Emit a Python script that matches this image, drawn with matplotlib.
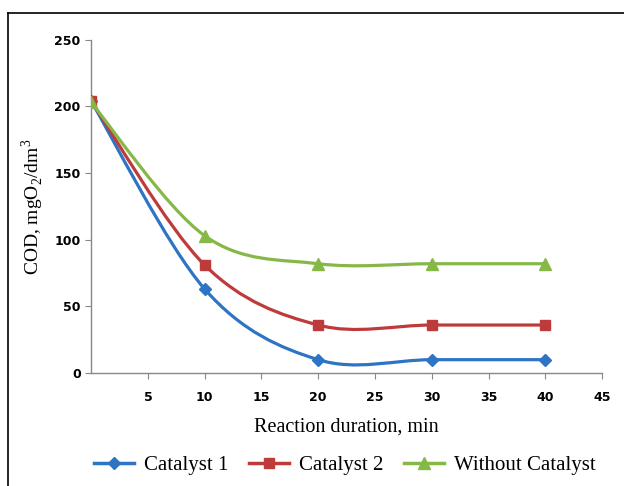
import numpy as np
import matplotlib
matplotlib.use('Agg')
import matplotlib.pyplot as plt
from matplotlib.path import Path
from matplotlib.patches import PathPatch
from matplotlib.lines import Line2D

# Data
time_min = [0, 10, 20, 30, 40]
catalyst1 = [204, 63, 10, 10, 10]
catalyst2 = [204, 81, 36, 36, 36]
no_catalyst = [203, 103, 82, 82, 82]
x_ticks = [5, 10, 15, 20, 25, 30, 35, 40, 45]
y_ticks = [0, 50, 100, 150, 200, 250]


def smooth_path(xs, ys):
    # Excel-like smoothed line: cubic Bezier segments (Catmull-Rom control points)
    pts = np.column_stack([xs, ys]).astype(float)
    n = len(pts)
    verts = [pts[0]]
    codes = [Path.MOVETO]
    for i in range(n - 1):
        p0 = pts[i - 1] if i > 0 else pts[i]
        p1 = pts[i]
        p2 = pts[i + 1]
        p3 = pts[i + 2] if i + 2 < n else pts[i + 1]
        c1 = p1 + (p2 - p0) / 6.0
        c2 = p2 - (p3 - p1) / 6.0
        verts += [c1, c2, p2]
        codes += [Path.CURVE4] * 3
    return Path(verts, codes)


serif = 'Liberation Serif'
plt.rcParams['mathtext.fontset'] = 'custom'
plt.rcParams['mathtext.rm'] = serif

fig = plt.figure(figsize=(6.24, 4.86), dpi=100)
ax = fig.add_axes([0.146, 0.2325, 0.819, 0.6855])

series = [
    (catalyst1, '#2e74c4', 'D', 6, 'Catalyst 1'),
    (catalyst2, '#be3b3b', 's', 7, 'Catalyst 2'),
    (no_catalyst, '#86b848', '^', 8, 'Without Catalyst'),
]
handles = []
for ys, col, mk, ms, lab in series:
    ax.add_patch(PathPatch(smooth_path(time_min, ys), facecolor='none',
                           edgecolor=col, lw=2.3, zorder=2))
    ax.plot(time_min, ys, ls='none', marker=mk, ms=ms, color=col, zorder=3)
    handles.append(Line2D([], [], color=col, lw=2.5, marker=mk, ms=ms, label=lab))

ax.set_xlim(0, 45)
ax.set_ylim(0, 250)
ax.set_xticks(x_ticks)
ax.set_yticks(y_ticks)
for s in ['top', 'right']:
    ax.spines[s].set_visible(False)
for s in ['left', 'bottom']:
    ax.spines[s].set_color('#888888')
    ax.spines[s].set_linewidth(1.0)
ax.tick_params(axis='both', colors='#888888', labelcolor='black',
               labelsize=9, length=4, direction='out')
ax.tick_params(axis='x', pad=9)
for lb in ax.get_xticklabels() + ax.get_yticklabels():
    lb.set_fontweight('bold')

ax.set_xlabel('Reaction duration, min', family=serif, fontsize=14.5, labelpad=10)
ax.set_ylabel('COD, mgO$_2$/dm$^{\\mathregular{3}}$', family=serif, fontsize=14, labelpad=6)

fig.legend(handles=handles, loc='center', bbox_to_anchor=(0.553, 0.043), ncol=3,
           frameon=False, prop={'family': serif, 'size': 15},
           handlelength=1.9, columnspacing=1.0, handletextpad=0.5)

# frame lines of the original figure
fig.add_artist(Line2D([8 / 624, 8 / 624], [0, 1 - 13 / 486], color='black', lw=1.2,
                      transform=fig.transFigure))
fig.add_artist(Line2D([8 / 624, 1], [1 - 13 / 486, 1 - 13 / 486], color='black', lw=1.2,
                      transform=fig.transFigure))

plt.savefig('out.png', dpi=100)
